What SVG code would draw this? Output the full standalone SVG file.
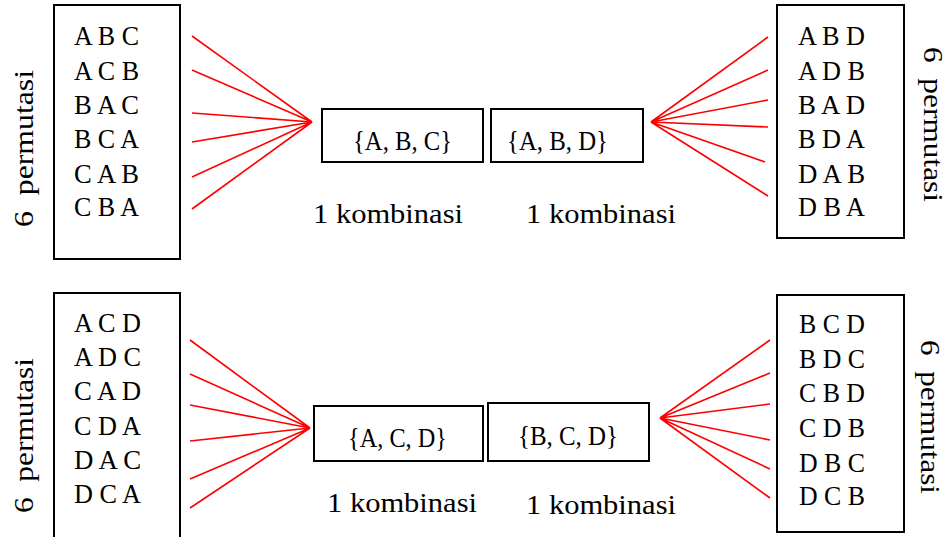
<svg xmlns="http://www.w3.org/2000/svg" width="949" height="537" viewBox="0 0 949 537">
<style>
.box{fill:#fff;stroke:#000;stroke-width:2}
.t{font-family:"Liberation Serif","Times New Roman",serif;font-size:28px;fill:#000}
.v{font-size:27px;white-space:pre}
.ln{stroke:#ff0000;stroke-width:1.6;fill:none}
</style>
<rect width="949" height="537" fill="#fff"/>
<g id="connectors">
<path class="ln" d="M192 36L312 122M192 70L312 122M192 113L312 122M192 142L312 122M192 177L312 122M192 209L312 122"/>
<path class="ln" d="M768 37L651 122M768 70L651 122M768 100L651 122M768 127L651 122M765 162L651 122M768 196L651 122"/>
<path class="ln" d="M190 340L310 428M190 374L310 428M190 405L310 428M190 441L310 428M190 479L310 428M190 508L310 428"/>
<path class="ln" d="M770 340L660 418M770 373L660 418M770 404L660 418M770 440L660 418M770 469L660 418M770 498L660 418"/>
</g>
<g id="perm-abc">
<rect class="box" x="54" y="5" width="126" height="254"/>
<text class="t" x="74" y="45" textLength="65" lengthAdjust="spacingAndGlyphs">A B C</text>
<text class="t" x="74" y="80" textLength="65" lengthAdjust="spacingAndGlyphs">A C B</text>
<text class="t" x="74" y="114" textLength="65" lengthAdjust="spacingAndGlyphs">B A C</text>
<text class="t" x="74" y="148" textLength="65" lengthAdjust="spacingAndGlyphs">B C A</text>
<text class="t" x="74" y="183" textLength="65" lengthAdjust="spacingAndGlyphs">C A B</text>
<text class="t" x="74" y="216" textLength="65" lengthAdjust="spacingAndGlyphs">C B A</text>
<text class="t v" transform="translate(33,227) rotate(-90)" textLength="157" lengthAdjust="spacingAndGlyphs">6  permutasi</text>
</g>
<g id="perm-abd">
<rect class="box" x="777" y="5" width="127" height="233"/>
<text class="t" x="798" y="45" textLength="67" lengthAdjust="spacingAndGlyphs">A B D</text>
<text class="t" x="798" y="80" textLength="67" lengthAdjust="spacingAndGlyphs">A D B</text>
<text class="t" x="798" y="114" textLength="67" lengthAdjust="spacingAndGlyphs">B A D</text>
<text class="t" x="798" y="148" textLength="67" lengthAdjust="spacingAndGlyphs">B D A</text>
<text class="t" x="798" y="183" textLength="67" lengthAdjust="spacingAndGlyphs">D A B</text>
<text class="t" x="798" y="216" textLength="67" lengthAdjust="spacingAndGlyphs">D B A</text>
<text class="t v" transform="translate(924,47) rotate(90)" textLength="155" lengthAdjust="spacingAndGlyphs">6  permutasi</text>
</g>
<g id="comb-abc">
<rect class="box" x="322" y="109" width="161" height="53"/>
<text class="t" x="353" y="150" textLength="99" lengthAdjust="spacingAndGlyphs">{A, B, C}</text>
<text class="t" x="313" y="223" textLength="150" lengthAdjust="spacingAndGlyphs">1 kombinasi</text>
</g>
<g id="comb-abd">
<rect class="box" x="491" y="109" width="152" height="53"/>
<text class="t" x="507" y="150" textLength="101" lengthAdjust="spacingAndGlyphs">{A, B, D}</text>
<text class="t" x="526" y="223" textLength="150" lengthAdjust="spacingAndGlyphs">1 kombinasi</text>
</g>
<g id="perm-acd">
<rect class="box" x="54" y="293" width="126" height="254"/>
<text class="t" x="74" y="332" textLength="67" lengthAdjust="spacingAndGlyphs">A C D</text>
<text class="t" x="74" y="366" textLength="67" lengthAdjust="spacingAndGlyphs">A D C</text>
<text class="t" x="74" y="400" textLength="67" lengthAdjust="spacingAndGlyphs">C A D</text>
<text class="t" x="74" y="435" textLength="67" lengthAdjust="spacingAndGlyphs">C D A</text>
<text class="t" x="74" y="469" textLength="67" lengthAdjust="spacingAndGlyphs">D A C</text>
<text class="t" x="74" y="503" textLength="67" lengthAdjust="spacingAndGlyphs">D C A</text>
<text class="t v" transform="translate(33,513) rotate(-90)" textLength="155" lengthAdjust="spacingAndGlyphs">6  permutasi</text>
</g>
<g id="perm-bcd">
<rect class="box" x="777" y="295" width="127" height="237"/>
<text class="t" x="799" y="333" textLength="66" lengthAdjust="spacingAndGlyphs">B C D</text>
<text class="t" x="799" y="368" textLength="66" lengthAdjust="spacingAndGlyphs">B D C</text>
<text class="t" x="799" y="402" textLength="66" lengthAdjust="spacingAndGlyphs">C B D</text>
<text class="t" x="799" y="437" textLength="66" lengthAdjust="spacingAndGlyphs">C D B</text>
<text class="t" x="799" y="472" textLength="66" lengthAdjust="spacingAndGlyphs">D B C</text>
<text class="t" x="799" y="505" textLength="66" lengthAdjust="spacingAndGlyphs">D C B</text>
<text class="t v" transform="translate(921,340) rotate(90)" textLength="154" lengthAdjust="spacingAndGlyphs">6  permutasi</text>
</g>
<g id="comb-acd">
<rect class="box" x="314" y="406" width="169" height="55"/>
<text class="t" x="348" y="447" textLength="99" lengthAdjust="spacingAndGlyphs">{A, C, D}</text>
<text class="t" x="327" y="512" textLength="150" lengthAdjust="spacingAndGlyphs">1 kombinasi</text>
</g>
<g id="comb-bcd">
<rect class="box" x="488" y="403" width="161" height="58"/>
<text class="t" x="518" y="445" textLength="100" lengthAdjust="spacingAndGlyphs">{B, C, D}</text>
<text class="t" x="526" y="514" textLength="150" lengthAdjust="spacingAndGlyphs">1 kombinasi</text>
</g>
</svg>
